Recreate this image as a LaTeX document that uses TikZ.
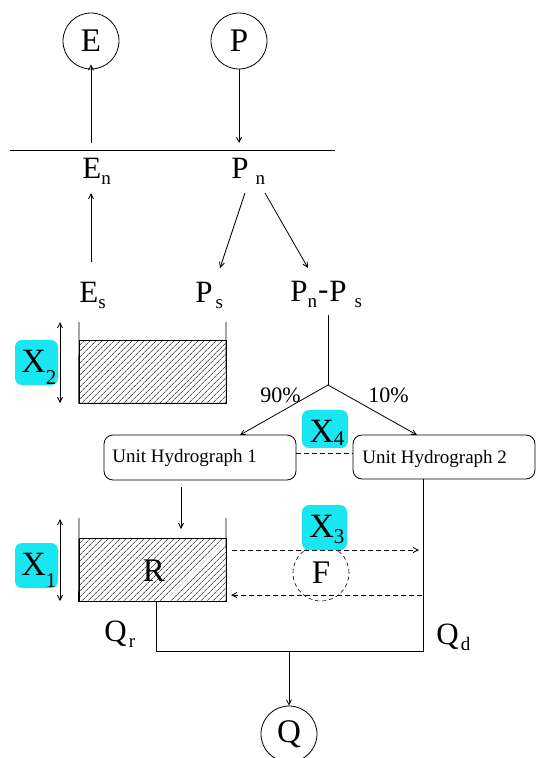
\documentclass[tikz,border=0pt]{standalone}
\usepackage{fontspec}
\setmainfont{Liberation Serif}
\usetikzlibrary{arrows.meta,patterns.meta,calc}
\definecolor{xcyan}{RGB}{24,230,240}
\newcommand{\lbsub}[1]{\raisebox{-6pt}{\fontsize{19}{19}\selectfont #1}}
\newcommand{\xsub}[2]{\raisebox{-#1pt}{\fontsize{21}{21}\selectfont #2}}
\begin{document}
\begin{tikzpicture}[x=1pt,y=-1pt,line width=0.8pt,
  arr/.style={-{Straight Barb[length=5pt,width=5pt]}},
  darr/.style={{Straight Barb[length=5pt,width=5pt]}-{Straight Barb[length=5pt,width=5pt]}},
  circ/.style={circle,draw,minimum size=56pt,inner sep=0pt,font=\fontsize{33}{33}\selectfont},
  lbl/.style={inner sep=0pt,anchor=base west,font=\fontsize{31}{31}\selectfont},
  xlbl/.style={inner sep=0pt,anchor=base west,font=\fontsize{34}{34}\selectfont},
  pct/.style={inner sep=0pt,anchor=base west,font=\fontsize{22}{22}\selectfont},
  uhtext/.style={inner sep=0pt,anchor=base west,font=\fontsize{19}{19}\selectfont},
  xbox/.style={fill=xcyan,rounded corners=7pt,inner sep=0pt},
  uhbox/.style={draw,rounded corners=9pt,inner sep=0pt},
  hatch/.style={draw,pattern={Lines[angle=45,distance=4pt,line width=0.5pt]},inner sep=0pt},
  dsh/.style={dash pattern=on 5pt off 3pt},
]
\useasboundingbox (0,0) rectangle (536,758);

% top circles and horizontal line
\node[circ] (E) at (91,41) {E};
\node[circ] (P) at (239,41) {P};
\coordinate (L1) at (10,150);
\coordinate (L2) at (335,150);
\draw (L1) -- (L2);
\coordinate (EnTop) at (91,143);
\coordinate (PnTop) at (239,143);
\draw[arr] (EnTop) -- ([yshift=5pt]E.south);
\draw[arr] (P.south) -- (PnTop);

% labels
\node[lbl] (En) at (82,178) {E\lbsub{n}};
\node[lbl] (Pn) at (231,178) {P\hspace{7pt}\lbsub{n}};
\node[lbl] (Es) at (79,302) {E\lbsub{s}};
\node[lbl] (Ps) at (195,302) {P\hspace{3pt}\lbsub{s}};
\node[lbl] (PnPs) at (290,301) {P\lbsub{n}\hspace{1pt}\raisebox{2pt}{-}\hspace{1pt}P\hspace{8pt}\lbsub{s}};

% arrows between labels
\coordinate (EsTop) at (91,262);
\coordinate (EnBot) at (91,193);
\draw[arr] (EsTop) -- (EnBot);
\coordinate (Pa1) at (245,193);
\coordinate (Pa2) at (220,268);
\coordinate (Pb1) at (265,193);
\coordinate (Pb2) at (308,268);
\draw[arr] (Pa1) -- (Pa2);
\draw[arr] (Pb1) -- (Pb2);

% upper store
\node[hatch,minimum width=147pt,minimum height=63pt] (S) at (152.5,371.5) {};
\coordinate (S1l) at (79,322);
\coordinate (S1r) at (226,322);
\draw (S1l) -- (S.south west) -- (S.south east) -- (S1r);
\coordinate (X2a) at (60,322);
\coordinate (X2b) at (60,403);
\draw[darr] (X2a) -- (X2b);
\node[xbox,minimum width=43pt,minimum height=45pt] (X2) at (36.5,362.5) {};
\node[xlbl] (X2t) at (21,372) {X\xsub{12}{2}};

% branch
\coordinate (Btop) at (328,315);
\coordinate (B) at (328,385);
\coordinate (U1in) at (240,435);
\coordinate (U2in) at (417,435);
\draw (Btop) -- (B);
\draw[arr] (B) -- (U1in);
\draw[arr] (B) -- (U2in);
\node[pct] (p90) at (260,402) {90\%};
\node[pct] (p10) at (368,402) {10\%};

% unit hydrographs
\node[uhbox,minimum width=192pt,minimum height=45pt] (UH1) at (200,457.5) {};
\node[uhtext] (UH1t) at (112,462) {Unit Hydrograph 1};
\node[uhbox,minimum width=182pt,minimum height=44pt] (UH2) at (444,457) {};
\node[uhtext] (UH2t) at (362,463) {Unit Hydrograph 2};
\draw[dsh] (UH1.east |- 0,453) -- (UH2.west |- 0,453);
\node[xbox,minimum width=46pt,minimum height=38pt] (X4) at (325,429) {};
\node[xlbl] (X4t) at (309,442) {X\xsub{3}{4}};

% lower store R
\coordinate (U1out) at (181,487);
\coordinate (Rin) at (181,529);
\draw[arr] (U1out) -- (Rin);
\node[hatch,minimum width=147pt,minimum height=63pt] (R) at (152.5,569.5) {};
\node[lbl,anchor=center,font=\fontsize{33}{33}\selectfont] (Rt) at (154,571) {R};
\coordinate (S2l) at (79,518);
\coordinate (S2r) at (226,518);
\draw (S2l) -- (R.south west) -- (R.south east) -- (S2r);
\coordinate (X1a) at (60,519);
\coordinate (X1b) at (60,601);
\draw[darr] (X1a) -- (X1b);
\node[xbox,minimum width=43pt,minimum height=45pt] (X1) at (36.5,565.5) {};
\node[xlbl] (X1t) at (21,575) {X\xsub{12}{1}};

% exchange F
\coordinate (d1a) at (232,550);
\coordinate (d1b) at (419,550);
\coordinate (d2a) at (422,595);
\coordinate (d2b) at (231,595);
\draw[dsh,arr] (d1a) -- (d1b);
\draw[dsh,arr] (d2a) -- (d2b);
\node[circ,dash pattern=on 4pt off 3pt,line width=0.6pt] (F) at (321,573) {F};
\node[xbox,minimum width=45pt,minimum height=45pt] (X3) at (324.5,527.5) {};
\node[xlbl] (X3t) at (309,537) {X\xsub{6}{3}};

% outflows
\coordinate (Rbot) at (156,601);
\coordinate (J) at (423,651);
\coordinate (U2out) at (423,479);
\draw (Rbot) |- (J) -- (U2out);
\coordinate (Jq) at (289,651);
\node[circ] (Q) at (289,734) {Q};
\draw[arr] (Jq) -- (Q.north);
\node[lbl] (Qr) at (104,641) {Q\hspace{2pt}\lbsub{r}};
\node[lbl] (Qd) at (436,644) {Q\hspace{2pt}\lbsub{d}};
\end{tikzpicture}
\end{document}
